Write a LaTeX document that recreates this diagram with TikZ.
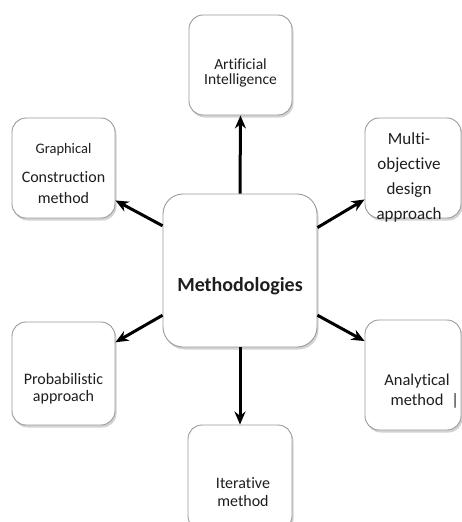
\documentclass[tikz,border=0pt]{standalone}
\usepackage{fontspec}
\setmainfont{Carlito}[Ligatures=NoCommon]
\usetikzlibrary{shadows,arrows.meta}
\definecolor{boxgray}{HTML}{9A9A9A}
\definecolor{txt}{HTML}{1E1E1E}
\begin{document}
\begin{tikzpicture}[x=1pt,y=-1pt,
  box/.style={draw=boxgray, line width=0.9pt, fill=white, rounded corners=14pt,
    drop shadow={shadow xshift=1.5pt,shadow yshift=-2.5pt,opacity=0.35}, inner sep=0pt},
  arr/.style={line width=3pt, -{Stealth[length=13pt,width=11pt]}},
  lbl/.style={align=center, text=txt, inner sep=0pt, font=\fontsize{15.5}{15.5}\selectfont}]
\useasboundingbox (0,0) rectangle (462,522);
\begin{scope}
\clip (0,0) rectangle (462,522);
% boxes
\node[box, minimum width=103pt, minimum height=100pt] (ai) at (240.5,65) {};
\node[box, minimum width=103pt, minimum height=100pt] (g) at (63.5,168) {};
\node[box, minimum width=96pt, minimum height=100pt] (m) at (413,168) {};
\node[box, minimum width=103pt, minimum height=103pt] (p) at (63.5,373.5) {};
\node[box, minimum width=96pt, minimum height=110pt] (a) at (413,375) {};
\node[box, minimum width=104pt, minimum height=105pt] (it) at (240,477.5) {};
\node[box, minimum width=154pt, minimum height=153pt, rounded corners=20pt] (c) at (240,270.5) {};
\end{scope}
% labels
\node[lbl] (tai) at (240.5,73) {Artificial\\Intelligence};
\node[lbl, font=\fontsize{14.5}{14.5}\selectfont] (tg1) at (63.5,150) {Graphical};
\node[lbl, font=\fontsize{16}{21}\selectfont] (tg2) at (63.5,188) {Construction\\method};
\node[lbl, font=\fontsize{17}{25}\selectfont] (tm) at (409,177) {Multi-\\objective\\design\\approach};
\node[lbl, font=\fontsize{16}{17}\selectfont] (tp) at (63.5,389) {Probabilistic\\approach};
\node[lbl, font=\fontsize{16.5}{20}\selectfont] (ta) at (417,391) {Analytical\\method\rlap{\hspace{8pt}|}};
\node[lbl, font=\fontsize{16}{18.5}\selectfont] (tit) at (243,492) {Iterative\\method};
\node[lbl, font=\fontsize{20}{20}\selectfont\bfseries] (tc) at (240,286) {Methodologies};
% arrows
\draw[arr] (c.north) -- (ai.south);
\draw[arr] (c.south) -- (it.north);
\draw[arr] (c.150.6) -- (g.-32);
\draw[arr] (c.29.4) -- (m.213);
\draw[arr] (c.210) -- (p.31.5);
\draw[arr] (c.-30) -- (a.145.5);
\end{tikzpicture}
\end{document}
